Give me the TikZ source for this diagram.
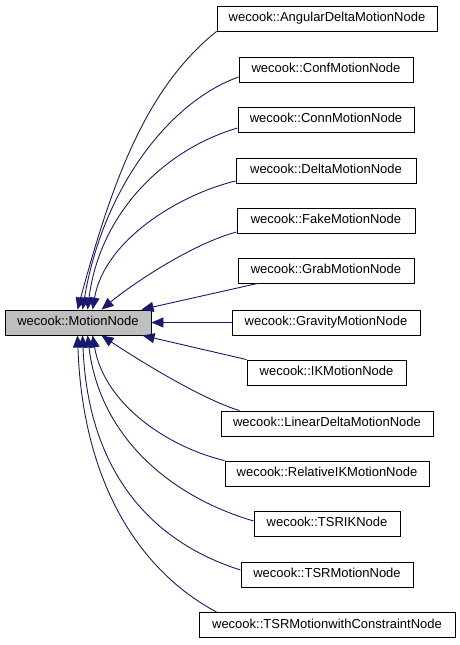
\documentclass[tikz,border=0pt]{standalone}
\usepackage{fontspec}
\setmainfont{Liberation Sans}
\usetikzlibrary{arrows.meta}
\definecolor{edgeblue}{HTML}{191970}
\definecolor{rootgray}{HTML}{BFBFBF}
\begin{document}
\begin{tikzpicture}[x=1pt,y=-1pt,
  cls/.style={draw=black, line width=0.9pt, fill=white, minimum height=25pt, inner sep=0pt,
    font=\fontsize{13}{15}\selectfont, text height=9.4pt, text depth=2.6pt},
  edge/.style={draw=edgeblue, line width=0.9pt, -{Triangle[length=12pt,width=10pt]}}]
\useasboundingbox (0,0) rectangle (460,645);
\node[cls, fill=rootgray, minimum width=146pt] (root) at (78,322.5) {wecook::MotionNode};
\node[cls, minimum width=220pt] (c1) at (327,18.5) {wecook::AngularDeltaMotionNode};
\node[cls, minimum width=174pt] (c2) at (326,69.5) {wecook::ConfMotionNode};
\node[cls, minimum width=176pt] (c3) at (326,119.5) {wecook::ConnMotionNode};
\node[cls, minimum width=180pt] (c4) at (326,170.5) {wecook::DeltaMotionNode};
\node[cls, minimum width=178pt] (c5) at (326,220.5) {wecook::FakeMotionNode};
\node[cls, minimum width=176pt] (c6) at (326,270.5) {wecook::GrabMotionNode};
\node[cls, minimum width=188pt] (c7) at (326,322.5) {wecook::GravityMotionNode};
\node[cls, minimum width=159pt] (c8) at (326.5,372.5) {wecook::IKMotionNode};
\node[cls, minimum width=212pt] (c9) at (327,423.5) {wecook::LinearDeltaMotionNode};
\node[cls, minimum width=204pt] (c10) at (327,473.5) {wecook::RelativeIKMotionNode};
\node[cls, minimum width=146pt] (c11) at (327,523.5) {wecook::TSRIKNode};
\node[cls, minimum width=172pt] (c12) at (327,574.5) {wecook::TSRMotionNode};
\node[cls, minimum width=256pt] (c13) at (327,625) {wecook::TSRMotionwithConstraintNode};
% arrow tips on the root
\coordinate (t1) at ([xshift=73pt]root.north west);
\coordinate (t2) at ([xshift=78pt]root.north west);
\coordinate (t3) at ([xshift=83pt]root.north west);
\coordinate (t4) at ([xshift=88pt]root.north west);
\coordinate (t5) at ([xshift=97pt]root.north west);
\coordinate (t6) at ([xshift=137pt]root.north west);
\coordinate (b8) at ([xshift=138pt]root.south west);
\coordinate (b9) at ([xshift=97pt]root.south west);
\coordinate (b10) at ([xshift=88pt]root.south west);
\coordinate (b11) at ([xshift=83pt]root.south west);
\coordinate (b12) at ([xshift=78pt]root.south west);
\coordinate (b13) at ([xshift=73pt]root.south west);
% edges
\draw[edge] (c1.south west) .. controls +(-70,56) and +(35,-130) .. (t1);
\draw[edge] ([yshift=-7.5pt]c2.west) .. controls +(-70,25) and +(20,-120) .. (t2);
\draw[edge] ([yshift=-8.5pt]c3.west) .. controls +(-75,22) and +(12,-95) .. (t3);
\draw[edge] ([yshift=-10.5pt]c4.west) .. controls +(-55,13) and +(12,-70) .. (t4);
\draw[edge] ([yshift=-11.5pt]c5.west) .. controls +(-45,12) and +(30,-25) .. (t5);
\draw[edge] ([xshift=20pt]c6.south west) -- (t6);
\draw[edge] (c7.west) -- (root.east);
\draw[edge] (c8.north west) -- (b8);
\draw[edge] ([xshift=19pt]c9.north west) .. controls +(-40,-12) and +(30,20) .. (b9);
\draw[edge] (c10.north west) .. controls +(-55,-13) and +(12,70) .. (b10);
\draw[edge] ([yshift=2.5pt]c11.west) .. controls +(-85,-25) and +(12,100) .. (b11);
\draw[edge] ([yshift=4.5pt]c12.west) .. controls +(-95,-30) and +(5,130) .. (b12);
\draw[edge] ([xshift=18pt]c13.north west) .. controls +(-75,-40) and +(5,150) .. (b13);
\end{tikzpicture}
\end{document}
